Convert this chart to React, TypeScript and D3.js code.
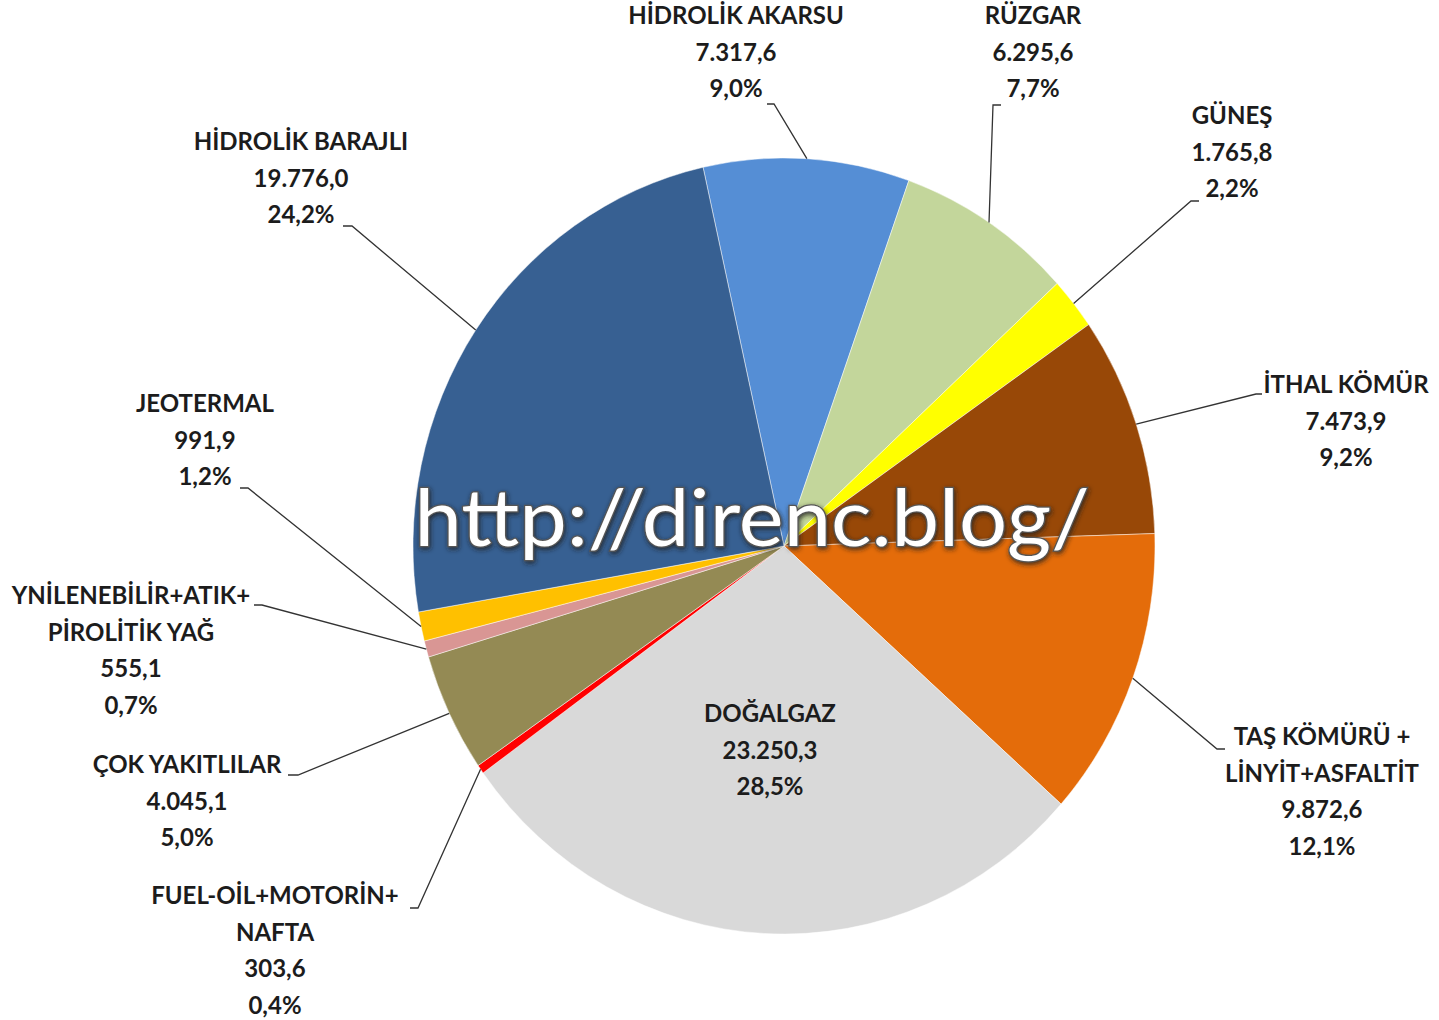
import { useMemo } from "react";
import * as d3 from "d3";

const WIDTH = 1439;
const HEIGHT = 1020;
const CX = 784;
const CY = 546;
const RADIUS = 371;
const Y_STRETCH = 1.046;
const START_ANGLE = (-12.6 * Math.PI) / 180;
const LINE_H = 36.7;

// data, clockwise from the top
const categories = [
  "HİDROLİK AKARSU",
  "RÜZGAR",
  "GÜNEŞ",
  "İTHAL KÖMÜR",
  "TAŞ KÖMÜRÜ + LİNYİT+ASFALTİT",
  "DOĞALGAZ",
  "FUEL-OİL+MOTORİN+ NAFTA",
  "ÇOK YAKITLILAR",
  "YNİLENEBİLİR+ATIK+ PİROLİTİK YAĞ",
  "JEOTERMAL",
  "HİDROLİK BARAJLI",
];
const values = [7317.6, 6295.6, 1765.8, 7473.9, 9872.6, 23250.3, 303.6, 4045.1, 555.1, 991.9, 19776.0];
const colors = [
  "#558ed5", "#c3d69b", "#ffff00", "#984807", "#e46c0a", "#d9d9d9",
  "#ff0000", "#948a54", "#d99694", "#ffc000", "#376092",
];
// how the category names wrap in the labels
const nameLines = [
  ["HİDROLİK AKARSU"],
  ["RÜZGAR"],
  ["GÜNEŞ"],
  ["İTHAL KÖMÜR"],
  ["TAŞ KÖMÜRÜ +", "LİNYİT+ASFALTİT"],
  ["DOĞALGAZ"],
  ["FUEL-OİL+MOTORİN+", "NAFTA"],
  ["ÇOK YAKITLILAR"],
  ["YNİLENEBİLİR+ATIK+", "PİROLİTİK YAĞ"],
  ["JEOTERMAL"],
  ["HİDROLİK BARAJLI"],
];

// label layout: text centre x, first line centre y, leader start + elbow (null = inside)
const labelPos: { x: number; y: number; lead: number[] | null }[] = [
  { x: 736, y: 16, lead: [767, 104, 774, 104] },
  { x: 1033, y: 16, lead: [1001, 105, 993, 105] },
  { x: 1232, y: 116, lead: [1199, 201, 1191, 201] },
  { x: 1346, y: 385, lead: [1262, 394, 1256, 394] },
  { x: 1322, y: 737, lead: [1225, 749, 1217, 749] },
  { x: 770, y: 714, lead: null },
  { x: 275, y: 896, lead: [410, 908, 418, 908] },
  { x: 187, y: 765, lead: [288, 775, 298, 775] },
  { x: 131, y: 596, lead: [254, 605, 262, 605] },
  { x: 205, y: 404, lead: [240, 488, 248, 488] },
  { x: 301, y: 142, lead: [343, 226, 352, 226] },
];

const trLocale = d3.formatLocale({
  decimal: ",",
  thousands: ".",
  grouping: [3],
  currency: ["", " TL"],
});
const fmtValue = trLocale.format(",.1f");
const fmtPct = trLocale.format(".1%");

const FONT = "Lato, 'Open Sans', sans-serif";

export default function App() {
  const total = d3.sum(values);
  const data = categories.map((c, i) => ({ name: c, value: values[i], i }));

  const arcs = useMemo(() => {
    const pie = d3
      .pie<{ name: string; value: number; i: number }>()
      .sort(null)
      .value((d) => d.value)
      .startAngle(START_ANGLE)
      .endAngle(START_ANGLE + 2 * Math.PI);
    return pie(data);
  }, []);

  const arcGen = d3
    .arc<d3.PieArcDatum<{ name: string; value: number; i: number }>>()
    .innerRadius(0)
    .outerRadius(RADIUS);

  const edgePoint = (a: number) => [
    CX + RADIUS * Math.sin(a),
    CY - RADIUS * Y_STRETCH * Math.cos(a),
  ];

  return (
    <svg
      width={WIDTH}
      height={HEIGHT}
      style={{ position: "absolute", left: 0, top: 0, background: "#fff" }}
    >
      <defs>
        <filter id="wmShadow" x="-10%" y="-30%" width="120%" height="160%">
          <feDropShadow dx="1" dy="2" stdDeviation="2.5" floodColor="#222" floodOpacity="0.85" />
        </filter>
      </defs>

      <g transform={`translate(${CX},${CY}) scale(1,${Y_STRETCH})`}>
        {arcs.map((a) => (
          <path
            key={a.data.name}
            d={arcGen(a) || ""}
            fill={colors[a.index]}
            stroke="#fff"
            strokeWidth={0.8}
            strokeOpacity={0.6}
            vectorEffect="non-scaling-stroke"
          />
        ))}
      </g>

      {arcs.map((a) => {
        const p = labelPos[a.index];
        if (!p.lead) return null;
        const mid = (a.startAngle + a.endAngle) / 2;
        const [ex, ey] = edgePoint(mid);
        const [x1, y1, x2, y2] = p.lead;
        return (
          <polyline
            key={"lead" + a.index}
            points={`${x1},${y1} ${x2},${y2} ${ex},${ey}`}
            fill="none"
            stroke="#333"
            strokeWidth={1.3}
          />
        );
      })}

      {arcs.map((a) => {
        const p = labelPos[a.index];
        const lines = [...nameLines[a.index], fmtValue(a.data.value), fmtPct(a.data.value / total)];
        return (
          <text
            key={"lab" + a.index}
            x={p.x}
            textAnchor="middle"
            fontFamily={FONT}
            fontWeight={700}
            fontSize={24}
            fill="#1c1c1c"
          >
            {lines.map((l, k) => (
              <tspan key={k} x={p.x} y={p.y + k * LINE_H + 8}>
                {l}
              </tspan>
            ))}
          </text>
        );
      })}

      <text
        x={752}
        y={546}
        textAnchor="middle"
        fontFamily={FONT}
        fontSize={80}
        fill="#fff"
        stroke="#555"
        strokeWidth={2.5}
        paintOrder="stroke"
        textLength={675}
        lengthAdjust="spacingAndGlyphs"
        filter="url(#wmShadow)"
      >
        http://direnc.blog/
      </text>
    </svg>
  );
}
